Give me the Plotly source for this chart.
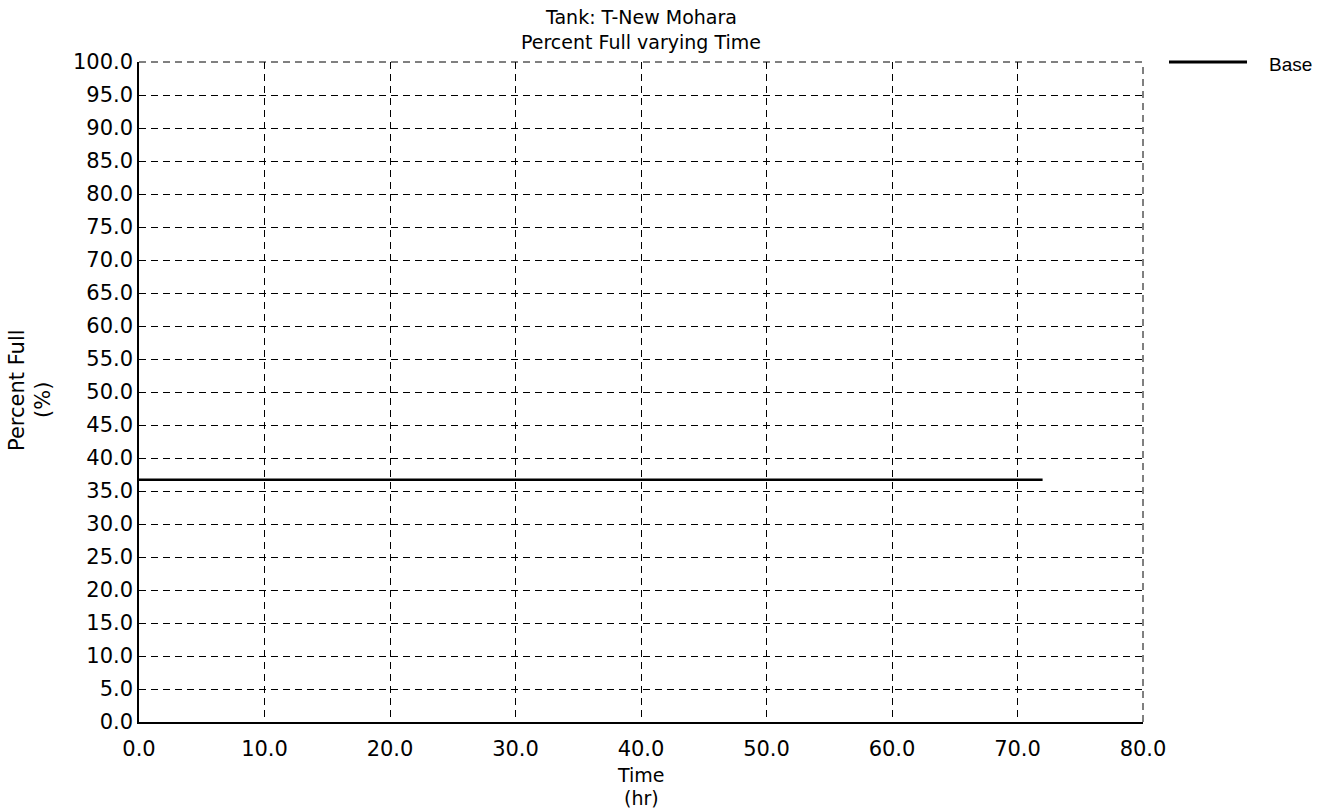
import plotly.graph_objects as go

# Data
time_hr = [0.0, 6.0, 12.0, 18.0, 24.0, 30.0, 36.0, 42.0, 48.0, 54.0, 60.0, 66.0, 72.0]
percent_full = [36.7, 36.7, 36.7, 36.7, 36.7, 36.7, 36.7, 36.7, 36.7, 36.7, 36.7, 36.7, 36.7]
series_name = "Base"
x_ticks = [0, 10, 20, 30, 40, 50, 60, 70, 80]
y_ticks = [0, 5, 10, 15, 20, 25, 30, 35, 40, 45, 50, 55, 60, 65, 70, 75, 80, 85, 90, 95, 100]
title_lines = ["Tank: T-New Mohara", "Percent Full varying Time"]
x_title_lines = ["Time", "(hr)"]
y_title_lines = ["Percent Full", "(%)"]

FONT = "DejaVu Sans"

fig = go.Figure()
fig.add_trace(go.Scatter(
    x=time_hr, y=percent_full, mode="lines", name=series_name,
    line=dict(color="black", width=2.5), showlegend=False,
))

axis_common = dict(
    showgrid=True, gridcolor="black", gridwidth=1, griddash="7px,5px",
    zeroline=False, showline=True, linecolor="black", linewidth=1.5,
    ticks="", tickfont=dict(family=FONT, size=21, color="black"),
    tickformat=".1f", mirror=False,
)

fig.update_xaxes(range=[0, 80], tickvals=x_ticks, ticklabelstandoff=7, **axis_common)
fig.update_yaxes(range=[0, 100], tickvals=y_ticks, ticklabelstandoff=0, **axis_common)

# Boundary dashed lines on top / right (grid at range ends)
fig.add_shape(type="line", xref="paper", yref="paper", x0=0, x1=1, y0=1, y1=1,
              line=dict(color="black", width=1, dash="7px,5px"))
fig.add_shape(type="line", xref="paper", yref="paper", x0=1, x1=1, y0=0, y1=1,
              line=dict(color="black", width=1, dash="7px,5px"))

# Legend (drawn)
fig.add_shape(type="line", xref="paper", yref="paper", x0=1.0259, x1=1.1036, y0=1.0, y1=1.0,
              line=dict(color="black", width=3))
fig.add_annotation(text=series_name, xref="paper", yref="paper", x=1.1235, y=0.996,
                   xanchor="left", yanchor="middle", showarrow=False,
                   font=dict(family="Liberation Sans", size=19, color="black"))

# Title
fig.add_annotation(text=title_lines[0], xref="paper", yref="paper", x=0.5, y=1.0, yshift=45,
                   xanchor="center", yanchor="middle", showarrow=False,
                   font=dict(family=FONT, size=19, color="black"))
fig.add_annotation(text=title_lines[1], xref="paper", yref="paper", x=0.5, y=1.0, yshift=20,
                   xanchor="center", yanchor="middle", showarrow=False,
                   font=dict(family=FONT, size=19, color="black"))

# X axis title
fig.add_annotation(text=x_title_lines[0], xref="paper", yref="paper", x=0.5, y=0, yshift=-53,
                   xanchor="center", yanchor="middle", showarrow=False,
                   font=dict(family=FONT, size=19, color="black"))
fig.add_annotation(text=x_title_lines[1], xref="paper", yref="paper", x=0.5, y=0, yshift=-76,
                   xanchor="center", yanchor="middle", showarrow=False,
                   font=dict(family=FONT, size=19, color="black"))

# Y axis title
fig.add_annotation(text=y_title_lines[0], xref="paper", yref="paper", x=0, xshift=-122, y=0.5, yshift=2,
                   xanchor="center", yanchor="middle", showarrow=False, textangle=-90,
                   font=dict(family=FONT, size=21, color="black"))
fig.add_annotation(text=y_title_lines[1], xref="paper", yref="paper", x=0, xshift=-96, y=0.5, yshift=-8,
                   xanchor="center", yanchor="middle", showarrow=False, textangle=-90,
                   font=dict(family=FONT, size=21, color="black"))

fig.update_layout(
    width=1327, height=809, autosize=False,
    margin=dict(l=139, r=184, t=62, b=87),
    paper_bgcolor="white", plot_bgcolor="white",
    font=dict(family=FONT, color="black"),
)

fig.write_html("out.html")
